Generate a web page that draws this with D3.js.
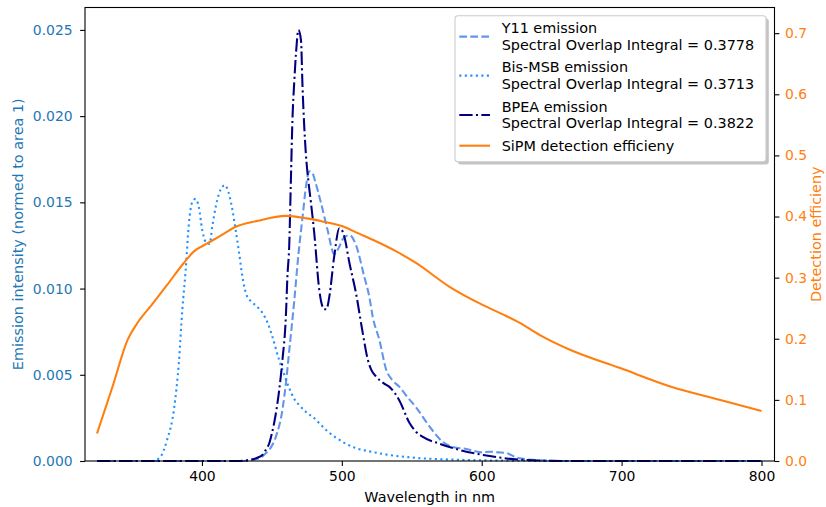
<!DOCTYPE html>
<html>
<head>
<meta charset="utf-8">
<script src="https://cdn.jsdelivr.net/npm/d3@7"></script>
<style>
body { margin: 0; background: #fff; }
svg text { font-family: "DejaVu Sans", sans-serif; }
</style>
</head>
<body>
<div class="chart"></div>
<script>
// [wavelength nm, value]
const y11Emission = [[325,0],[430,0],[438,0.0001],[441,0.00015],[445,0.0004],[448,0.00064],[452.8,0.0014],[457.6,0.003],[460,0.0045],[462.4,0.0064],[466,0.0093],[469,0.012],[472,0.0142],[474.5,0.016],[476.7,0.0168],[479,0.0167],[481,0.0162],[485,0.015],[489.8,0.0134],[494.6,0.012],[498,0.0124],[501,0.0129],[505.4,0.0131],[510.2,0.0125],[516,0.0107],[519.7,0.0095],[522,0.0084],[526.9,0.007],[531.7,0.0053],[536,0.0047],[541.2,0.0043],[547,0.0037],[553.2,0.0031],[562.7,0.002],[572.3,0.0011],[580,0.0008],[589,0.0007],[600,0.0005],[606,0.00054],[612,0.0005],[618,0.00045],[625,0.0002],[640,0.00005],[660,0],[800,0]]

const bisMsbEmission = [[325,0],[365,0],[370.4,0.00025],[375,0.0012],[380,0.003],[383.5,0.0057],[386,0.0088],[388.3,0.011],[390.7,0.0138],[393,0.015],[395.5,0.0152],[397.8,0.0147],[400.2,0.0134],[403.8,0.0126],[405.5,0.0126],[407.4,0.0136],[410,0.0148],[412.2,0.0155],[414.6,0.0159],[416.5,0.016],[418.1,0.0158],[421.7,0.0146],[424.1,0.0134],[426.5,0.0121],[428.9,0.0107],[432,0.0096],[436,0.0092],[440,0.0089],[443.2,0.0086],[447,0.008],[450.4,0.0072],[455,0.0059],[458,0.0052],[462,0.0043],[466,0.0036],[470,0.0032],[475,0.0028],[480,0.0025],[488.7,0.0018],[495,0.0014],[503,0.001],[510,0.00075],[517.3,0.0006],[530,0.0004],[550,0.0002],[580,0.00008],[620,0.00002],[660,0],[800,0]]

const bpeaEmission = [[325,0],[425,0],[433.7,0.00006],[440,0.0002],[443.2,0.00035],[446,0.0007],[448,0.001],[450,0.0016],[451.6,0.0022],[453.5,0.0031],[455.2,0.0041],[457.6,0.0059],[460,0.0084],[461.1,0.0107],[462.4,0.0125],[463.5,0.016],[464.7,0.0198],[466,0.022],[467.2,0.0236],[469,0.025],[470.8,0.0244],[471.9,0.0217],[474.3,0.0178],[476,0.0163],[477.9,0.015],[480.3,0.0132],[483.9,0.0099],[487.5,0.0088],[489,0.0088],[491,0.0095],[494.6,0.0119],[498.2,0.0135],[500,0.0134],[501.8,0.013],[505.4,0.0115],[510.2,0.0097],[515,0.0074],[518.5,0.0059],[521,0.0053],[524.5,0.0049],[530,0.0045],[534,0.0043],[541.2,0.0035],[548.4,0.0022],[553,0.0017],[557.9,0.0014],[570,0.001],[584.2,0.00064],[601,0.00035],[617.7,0.00015],[640,0.00003],[660,0],[800,0]]

const sipmEfficiency = [[325,0.045],[336,0.121],[347,0.199],[353.6,0.225],[363.2,0.253],[375.1,0.288],[387,0.324],[394.3,0.343],[403.8,0.356],[415.8,0.372],[423,0.382],[440,0.393],[460,0.401],[475,0.397],[486.2,0.392],[500.6,0.384],[510.2,0.374],[522.1,0.362],[538.9,0.343],[553,0.324],[577,0.285],[601,0.255],[615,0.24],[627.2,0.226],[641.6,0.206],[663.1,0.182],[699,0.152],[734.8,0.122],[770.6,0.1],[800,0.082]]

const xTicks = [400, 500, 600, 700, 800]
const leftTicks = [0, 0.005, 0.01, 0.015, 0.02, 0.025]
const rightTicks = [0, 0.1, 0.2, 0.3, 0.4, 0.5, 0.6, 0.7]

const legendLabels = [
    ["Y11 emission", "Spectral Overlap Integral = 0.3778"],
    ["Bis-MSB emission", "Spectral Overlap Integral = 0.3713"],
    ["BPEA emission", "Spectral Overlap Integral = 0.3822"],
    ["SiPM detection efficieny"]
]

const blue = "#1f77b4", orange = "#ff7f0e"
const fs = 14.4      // labels and legend
const tickFs = 13.9
const lw = 2.08

const margin = {top: 7.5, right: 51.5, bottom: 46, left: 85}
const width = 826 - margin.left - margin.right
const height = 507 - margin.top - margin.bottom

const svg = d3.select(".chart").append("svg")
        .attr("width", 826)
        .attr("height", 507)
    .append("g")
        .attr("transform", `translate(${margin.left},${margin.top})`)

const x = d3.scaleLinear().domain([316.4, 809.3]).range([0, width])
const yL = d3.scaleLinear().domain([0, 0.0263]).range([height, 0])
const yR = d3.scaleLinear().domain([0, 0.742]).range([height, 0])

const lineL = d3.line().curve(d3.curveMonotoneX).x(d => x(d[0])).y(d => yL(d[1]))
const lineR = d3.line().curve(d3.curveMonotoneX).x(d => x(d[0])).y(d => yR(d[1]))

const series = [
    {data: y11Emission, color: "#6495ed", dash: `${3.7*lw},${1.6*lw}`},
    {data: bisMsbEmission, color: "#1e90ff", dash: `${1*lw},${1.65*lw}`},
    {data: bpeaEmission, color: "#000080", dash: `${6.4*lw},${1.6*lw},${1*lw},${1.6*lw}`}
]

svg.selectAll(".emission")
    .data(series)
    .join("path")
        .attr("class", "emission")
        .attr("d", d => lineL(d.data))
        .attr("fill", "none")
        .attr("stroke", d => d.color)
        .attr("stroke-width", lw)
        .attr("stroke-dasharray", d => d.dash)

svg.append("path")
    .datum(sipmEfficiency)
    .attr("d", lineR)
    .attr("fill", "none")
    .attr("stroke", orange)
    .attr("stroke-width", lw)
    .attr("stroke-linejoin", "round")

// axes
function styleAxis(g, color) {
    g.select(".domain").remove()
    g.selectAll(".tick line").attr("stroke", "black").attr("stroke-width", 1.1)
    g.selectAll(".tick text").attr("fill", color).style("font-size", tickFs + "px")
        .style("font-family", "DejaVu Sans")
}

svg.append("g")
    .attr("transform", `translate(0,${height})`)
    .call(d3.axisBottom(x).tickValues(xTicks).tickSizeInner(4.9).tickSizeOuter(0).tickPadding(4.9))
    .call(g => styleAxis(g, "black"))

svg.append("g")
    .call(d3.axisLeft(yL).tickValues(leftTicks).tickFormat(d3.format(".3f")).tickSizeInner(4.9).tickSizeOuter(0).tickPadding(7.5))
    .call(g => styleAxis(g, blue))

svg.append("g")
    .attr("transform", `translate(${width},0)`)
    .call(d3.axisRight(yR).tickValues(rightTicks).tickFormat(d3.format(".1f")).tickSizeInner(4.9).tickSizeOuter(0).tickPadding(5.6))
    .call(g => styleAxis(g, orange))

svg.append("rect")
    .attr("width", width)
    .attr("height", height)
    .attr("fill", "none")
    .attr("stroke", "black")
    .attr("stroke-width", 1.1)

svg.append("text")
    .attr("x", width / 2)
    .attr("y", height + 41)
    .attr("text-anchor", "middle")
    .style("font-size", fs + "px")
    .text("Wavelength in nm")

svg.append("text")
    .attr("transform", `translate(${18 - margin.left},${height / 2}) rotate(-90)`)
    .attr("text-anchor", "middle")
    .attr("dy", "0.35em")
    .attr("fill", blue)
    .style("font-size", fs + "px")
    .text("Emission intensity (normed to area 1)")

svg.append("text")
    .attr("transform", `translate(${width + 41.5},${height / 2}) rotate(-90)`)
    .attr("text-anchor", "middle")
    .attr("dy", "0.35em")
    .attr("fill", orange)
    .style("font-size", fs + "px")
    .text("Detection efficieny")

// legend
const lx = 455 - margin.left, ly = 15.7 - margin.top, lwid = 311, lht = 146
const legend = svg.append("g").attr("transform", `translate(${lx},${ly})`)
legend.append("rect")
    .attr("x", 2.8).attr("y", 2.8)
    .attr("width", lwid).attr("height", lht)
    .attr("rx", 3)
    .attr("fill", "#888").attr("opacity", 0.5)
legend.append("rect")
    .attr("width", lwid).attr("height", lht)
    .attr("rx", 3)
    .attr("fill", "white").attr("stroke", "#cccccc").attr("stroke-width", 1.1)

const entries = [...series, {color: orange, dash: null}]
const rowTop = [12.6, 51.6, 91, 130]
entries.forEach((s, i) => {
    const lines = legendLabels[i]
    const mid = rowTop[i] + (lines.length - 1) * 16.7 / 2
    legend.append("line")
        .attr("x1", 4.3).attr("x2", 35)
        .attr("y1", mid).attr("y2", mid)
        .attr("stroke", s.color)
        .attr("stroke-width", lw)
        .attr("stroke-dasharray", s.dash)
    lines.forEach((t, j) => {
        legend.append("text")
            .attr("x", 46.7)
            .attr("y", rowTop[i] + j * 16.7)
            .attr("dy", "0.35em")
            .style("font-size", fs + "px")
            .text(t)
    })
})
</script>
</body>
</html>
